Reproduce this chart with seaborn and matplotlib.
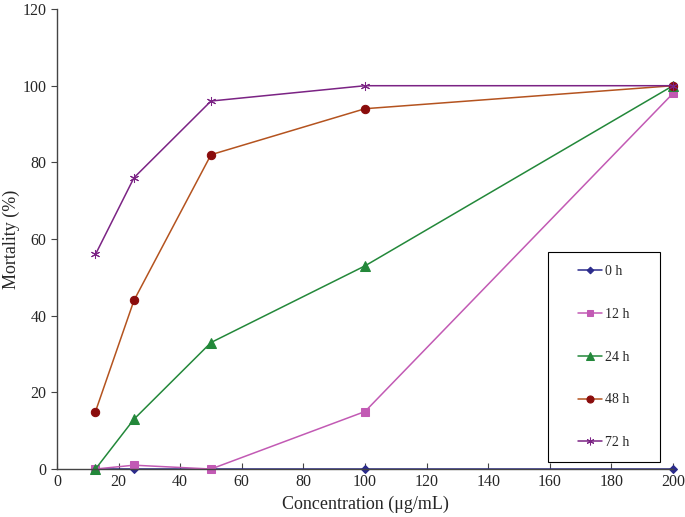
import pandas as pd
import matplotlib
matplotlib.use('Agg')
import matplotlib.pyplot as plt
import seaborn as sns
from matplotlib.patches import Rectangle

conc = [12.5, 25, 50, 100, 200]
labels = ['0 h', '12 h', '24 h', '48 h', '72 h']
mort_0h = [0, 0, 0, 0, 0]
mort_12h = [0, 1, 0, 15, 98]
mort_24h = [0, 13, 33, 53, 100]
mort_48h = [15, 44, 82, 94, 100]
mort_72h = [56, 76, 96, 100, 100]

series = [mort_0h, mort_12h, mort_24h, mort_48h, mort_72h]
line_colors = ['#2b2b8c', '#c25ab4', '#23883a', '#b4531f', '#7b2384']
mark_colors = ['#2b2b8c', '#c25ab4', '#23883a', '#8a0c0c', '#7b2384']
markers = ['D', 's', '^', 'o', (6, 2, 0)]
msizes = [4, 5.5, 6.5, 6, 6.5]

sns.set_style('white')
plt.rcParams['font.family'] = ['Liberation Serif', 'DejaVu Serif']

fig = plt.figure(figsize=(6.85, 5.17), dpi=100)
ax = fig.add_axes([0.0832, 0.0928, 0.8993, 0.8897])

for vals, lab, lc, mc, mk, ms in zip(series, labels, line_colors, mark_colors, markers, msizes):
    df = pd.DataFrame({'conc': conc, 'mort': vals})
    sns.lineplot(data=df, x='conc', y='mort', ax=ax, color=lc, marker=mk,
                 markersize=ms, markerfacecolor=mc, markeredgecolor=mc,
                 linewidth=1.1, label=lab, clip_on=False)

ax.set_xlim(0, 200)
ax.set_ylim(0, 120)
ax.set_xticks(range(0, 201, 20))
ax.set_yticks(range(0, 121, 20))
ax.set_xlabel('Concentration (μg/mL)', fontsize=13)
ax.set_ylabel('Mortality (%)', fontsize=13)
ax.yaxis.set_label_coords(-0.06, 0.5)
ax.tick_params(axis='x', direction='in', length=4, labelsize=11.5, color='#444444', bottom=True)
ax.tick_params(axis='y', direction='out', length=4, labelsize=11.5, color='#444444', left=True)
sns.despine(ax=ax)
for s in ['left', 'bottom']:
    ax.spines[s].set_color('#444444')
    ax.spines[s].set_linewidth(1.0)

# legend box drawn separately so the entries sit centred in it
ax.add_patch(Rectangle((0.797, 0.0152), 0.1818, 0.4565, transform=ax.transAxes,
                       fill=False, edgecolor='black', linewidth=0.8, zorder=5))
leg = ax.legend(loc='center', bbox_to_anchor=(0.888, 0.2435), frameon=False,
                fontsize=10, labelspacing=2.15, handlelength=1.7,
                handletextpad=0.25, borderaxespad=0, markerscale=0.85)

fig.savefig('out.png', dpi=100)
